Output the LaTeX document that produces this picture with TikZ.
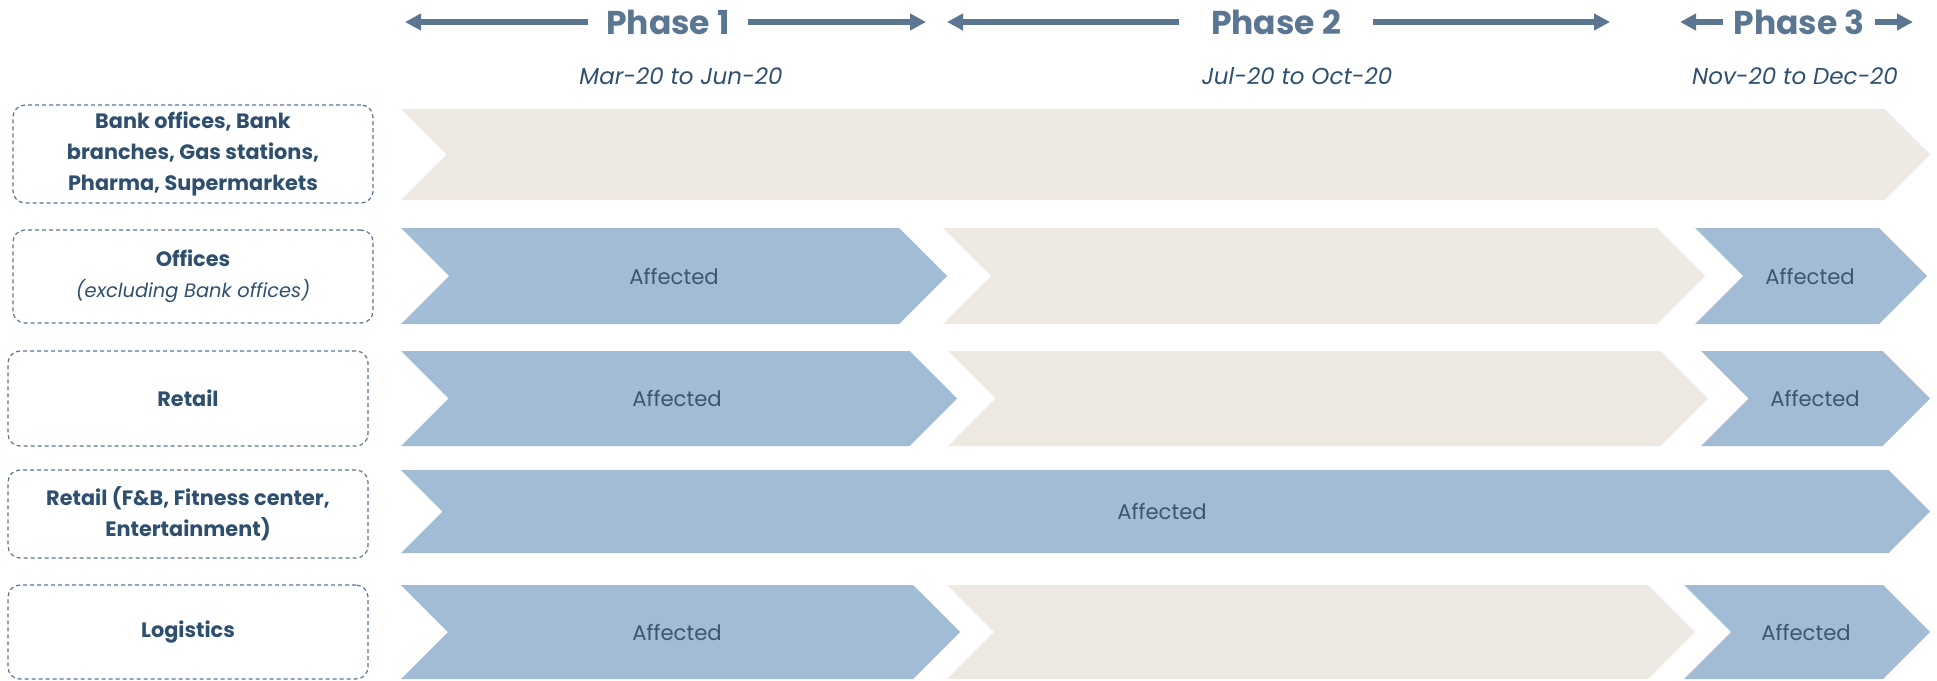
\documentclass[tikz,border=0pt]{standalone}
\usepackage{fontspec}
\setmainfont{Poppins}
\usepackage{tikz}
\usetikzlibrary{arrows.meta}

\definecolor{navy}{HTML}{2F4F6E}
\definecolor{slate}{HTML}{5B7691}
\definecolor{chevblue}{HTML}{A2BCD5}
\definecolor{chevbeige}{HTML}{EEE9E2}
\definecolor{dashline}{HTML}{5A7492}
\definecolor{afftext}{HTML}{3B5672}

\tikzstyle{cat} = [rectangle, rounded corners=6pt, draw=dashline, line width=0.6pt, dash pattern=on 2pt off 1.5pt, minimum width=180pt, align=center, text=navy, font=\bfseries\fontsize{10.4pt}{15.6pt}\selectfont]
\tikzstyle{phase} = [text=slate, inner xsep=9pt, font=\bfseries\fontsize{16.5pt}{19pt}\selectfont]
\tikzstyle{period} = [text=navy, font=\itshape\fontsize{11.5pt}{13pt}\selectfont]
\tikzstyle{affected} = [text=afftext, font=\fontsize{10.6pt}{12pt}\selectfont]
\tikzstyle{phasearrow} = [draw=slate, line width=2.6pt, -{Triangle[length=8pt,width=8pt]}]

% chevron: x from, x to, y top, y bottom, fill
\newcommand{\chevron}[5]{%
  \pgfmathsetmacro{\chevd}{(#4-#3)/2}%
  \pgfmathsetmacro{\chevm}{(#4+#3)/2}%
  \fill[#5] (#1,#3) -- ({#2-\chevd},#3) -- (#2,\chevm) -- ({#2-\chevd},#4) -- (#1,#4) -- ({#1+\chevd},\chevm) -- cycle;}

\begin{document}
\begin{tikzpicture}[x=0.5pt, y=-0.5pt]
\useasboundingbox (0,0) rectangle (1937,680);

% header
\node(ph1)[phase] at (668,22){Phase 1};
\node(ph2)[phase, inner xsep=16pt] at (1276,22){Phase 2};
\node(ph3)[phase, inner xsep=5pt] at (1799,22){Phase 3};
\coordinate(ph1l) at (405,22);
\coordinate(ph1r) at (926,22);
\coordinate(ph2l) at (947,22);
\coordinate(ph2r) at (1610,22);
\coordinate(ph3l) at (1680,22);
\coordinate(ph3r) at (1913,22);
\draw[phasearrow](ph1) -- (ph1l);
\draw[phasearrow](ph1) -- (ph1r);
\draw[phasearrow](ph2) -- (ph2l);
\draw[phasearrow](ph2) -- (ph2r);
\draw[phasearrow](ph3) -- (ph3l);
\draw[phasearrow](ph3) -- (ph3r);

\node(per1)[period] at (681,76){Mar-20 to Jun-20};
\node(per2)[period] at (1297,76){Jul-20 to Oct-20};
\node(per3)[period] at (1795,76){Nov-20 to Dec-20};

% categories
\node(c1)[cat, minimum height=47pt] at (193,154){Bank offices, Bank\\branches, Gas stations,\\Pharma, Supermarkets};
\node(c2)[cat, minimum height=46.5pt] at (193,276.5){Offices\\{\mdseries\itshape\fontsize{9.7pt}{15.6pt}\selectfont (excluding Bank offices)}};
\node(c3)[cat, minimum height=47.5pt] at (188,398.5){Retail};
\node(c4)[cat, minimum height=44pt] at (188,514){Retail (F\&B, Fitness center,\\Entertainment)};
\node(c5)[cat, minimum height=47pt] at (188,632){Logistics};

% rows
\chevron{401}{1930}{109}{200}{chevbeige}
\chevron{401}{947}{228}{324}{chevblue}
\chevron{943}{1705}{228}{324}{chevbeige}
\chevron{1695}{1927}{228}{324}{chevblue}
\chevron{401}{957}{351}{446}{chevblue}
\chevron{948}{1708}{351}{446}{chevbeige}
\chevron{1701}{1930}{351}{446}{chevblue}
\chevron{401}{1930}{470}{553}{chevblue}
\chevron{401}{960}{585}{679}{chevblue}
\chevron{947}{1695}{585}{679}{chevbeige}
\chevron{1684}{1930}{585}{679}{chevblue}

\node(a2l)[affected] at (674,276){Affected};
\node(a2r)[affected] at (1810,276){Affected};
\node(a3l)[affected] at (677,398.5){Affected};
\node(a3r)[affected] at (1815,398.5){Affected};
\node(a4)[affected] at (1162,511.5){Affected};
\node(a5l)[affected] at (677,632){Affected};
\node(a5r)[affected] at (1806,632){Affected};
\end{tikzpicture}
\end{document}
